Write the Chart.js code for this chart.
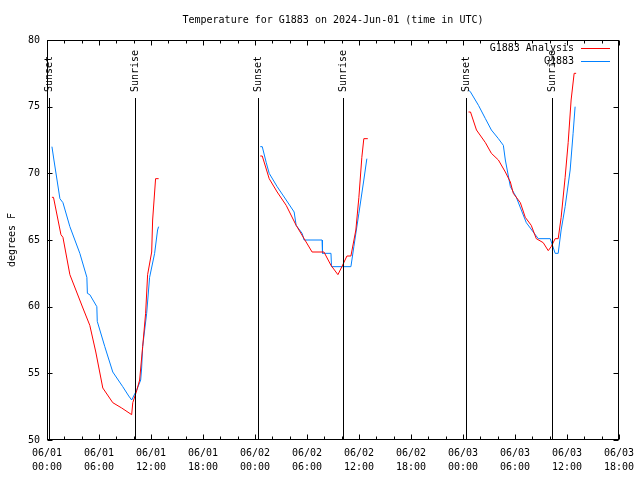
<!DOCTYPE html>
<html>
<head>
<meta charset="utf-8">
<script src="https://cdn.jsdelivr.net/npm/chart.js@4/dist/chart.umd.min.js"></script>
<style>
html,body{margin:0;padding:0;background:#fff;}
canvas{display:block;}
</style>
</head>
<body>
<canvas id="c" width="640" height="480"></canvas>
<script>
// Hours since 2024-06-01 00:00 UTC; null separates night segments
const analysisHours = [0.57,0.75,1.61,1.84,2.64,4.14,4.94,5.63,6.44,7.59,8.62,9.77,9.9,10.35,10.69,11.04,11.38,11.61,12.08,12.19,12.53,12.88,
  null,
  24.61,24.84,25.64,26.56,27.6,28.75,29.67,30.59,31.96,32.77,33.57,34.03,34.61,35.07,35.64,35.99,36.33,36.56,37.02,
  null,
  48.64,48.87,49.56,50.59,51.28,52.09,52.89,53.47,53.81,54.62,55.19,55.88,56.46,57.26,57.84,58.18,58.64,58.99,59.33,59.79,60.14,60.48,60.83,61.06];
const analysisTemps = [68.2,68.2,65.4,65.2,62.4,59.9,58.6,56.6,53.9,52.8,52.4,51.9,52.8,53.7,54.5,57,59.5,62.4,64.1,66.5,69.6,69.6,
  null,
  71.3,71.3,69.6,68.6,67.6,66.1,65.1,64.1,64.1,63.1,62.4,63,63.8,63.8,65.75,68.2,71.2,72.6,72.6,
  null,
  74.6,74.6,73.25,72.3,71.5,71,70.1,69.35,68.5,67.8,66.7,66.1,65.1,64.8,64.2,64.5,65.1,65.1,66.7,69.7,72.3,75.5,77.5,77.5];

const stationHours = [0.57,0.8,1.49,1.84,2.64,3.79,4.6,4.66,4.94,5.75,5.8,6.67,7.59,8.74,9.43,9.77,10.35,10.81,10.92,11.04,11.5,11.84,12.42,12.76,12.88,
  null,
  24.61,24.84,25.3,25.64,26.56,27.6,28.52,28.75,29.44,29.67,31.74,31.79,32.77,32.83,35.07,35.41,35.99,36.56,36.91,
  null,
  48.64,48.87,49.79,50.59,51.28,52.09,52.66,52.89,53.47,54.16,54.73,55.31,56.11,56.69,58.07,58.64,58.99,59.33,59.79,60.37,60.71,60.94];
const stationTemps = [72,71,68.1,67.8,66,64,62.2,61,60.9,60,58.9,57,55.1,54,53.3,53,53.75,54.5,55.4,57,59.5,62.2,64,65.75,66,
  null,
  72,72,70.8,70,69,68,67.1,66.1,65.5,65,65,64,64,63,63,64.5,67,69.5,71.1,
  null,
  76.25,76.1,75.1,74.1,73.25,72.6,72.1,71,69,68.2,67.25,66.3,65.6,65.1,65.1,64,64,65.75,67.5,70.25,73,75];

const eventHours = [0.26, 10.12, 24.3, 34.19, 48.33, 58.22];
const eventLabels = ["Sunset","Sunrise","Sunset","Sunrise","Sunset","Sunrise"];

const seriesNames = ["G1883 Analysis", "G1883"];
const seriesColors = ["#ff0000", "#0080ff"];
const dayLabels = ["06/01","06/02","06/03"];
const titleText = "Temperature for G1883 on 2024-Jun-01 (time in UTC)";
const yTitle = "degrees F";

const FONT = '10px "DejaVu Sans Mono", "Liberation Mono", monospace';

function toPoints(hs, vs){
  return hs.map((h,i)=> h===null ? {x: NaN, y: null} : {x: h, y: vs[i]});
}
function pts(hs, vs){
  const out=[];
  for(let i=0;i<hs.length;i++){
    if(hs[i]===null){ out.push({x:(hs[i-1]+hs[i+1])/2, y:null}); }
    else out.push({x:hs[i], y:vs[i]});
  }
  return out;
}

const framePlugin = {
  id: 'frame',
  afterDatasetsDraw(chart){
    const ctx = chart.ctx;
    const a = chart.chartArea;
    const xs = chart.scales.x, ys = chart.scales.y;
    ctx.save();
    ctx.strokeStyle = '#000';
    ctx.lineWidth = 1;
    // event lines + labels
    ctx.font = FONT;
    ctx.fillStyle = '#000';
    eventHours.forEach((h,i)=>{
      const x = Math.round(xs.getPixelForValue(h)) + 0.5;
      ctx.beginPath();
      ctx.moveTo(x, 98);
      ctx.lineTo(x, a.bottom);
      ctx.stroke();
      ctx.save();
      ctx.translate(x, 92);
      ctx.rotate(-Math.PI/2);
      ctx.textAlign = 'left';
      ctx.textBaseline = 'middle';
      ctx.fillText(eventLabels[i], 0, 0);
      ctx.restore();
    });
    // frame
    const L = Math.round(a.left)+0.5, R = Math.round(a.right)-0.5, T = Math.round(a.top)+0.5, B = Math.round(a.bottom)-0.5;
    ctx.strokeRect(L, T, R-L, B-T);
    // x ticks (major 6h, minor 2h)
    ctx.beginPath();
    for(let h=0; h<=66; h+=2){
      const x = Math.round(xs.getPixelForValue(h))+0.5;
      const len = (h%6===0) ? 5 : 3;
      ctx.moveTo(x, B); ctx.lineTo(x, B-len);
      ctx.moveTo(x, T); ctx.lineTo(x, T+len);
    }
    for(let v=50; v<=80; v+=5){
      const y = Math.round(ys.getPixelForValue(v))+0.5;
      ctx.moveTo(L, y); ctx.lineTo(L+5, y);
      ctx.moveTo(R, y); ctx.lineTo(R-5, y);
    }
    ctx.stroke();
    // title
    ctx.textAlign = 'center';
    ctx.textBaseline = 'middle';
    ctx.fillText(titleText, (a.left+a.right)/2, 20);
    // y title
    ctx.save();
    ctx.translate(12, (a.top+a.bottom)/2);
    ctx.rotate(-Math.PI/2);
    ctx.fillText(yTitle, 0, 0);
    ctx.restore();
    // legend
    const ly = [48, 61];
    seriesNames.forEach((n,i)=>{
      ctx.fillStyle = '#000';
      ctx.textAlign = 'right';
      ctx.fillText(n, 574, ly[i]);
      ctx.strokeStyle = seriesColors[i];
      ctx.beginPath();
      ctx.moveTo(581, ly[i]+0.5); ctx.lineTo(610, ly[i]+0.5);
      ctx.stroke();
    });
    ctx.restore();
  }
};

new Chart(document.getElementById('c'), {
  type: 'line',
  data: {
    datasets: [
      { label: seriesNames[0], data: pts(analysisHours, analysisTemps), borderColor: seriesColors[0], borderWidth: 1, pointRadius: 0, tension: 0, spanGaps: false, fill: false },
      { label: seriesNames[1], data: pts(stationHours, stationTemps), borderColor: seriesColors[1], borderWidth: 1, pointRadius: 0, tension: 0, spanGaps: false, fill: false }
    ]
  },
  options: {
    responsive: false,
    animation: false,
    devicePixelRatio: 1,
    layout: { padding: { top: 40, right: 19, left: 0, bottom: 0 } },
    plugins: { legend: { display: false }, title: { display: false }, tooltip: { enabled: false } },
    scales: {
      x: {
        type: 'linear', min: 0, max: 66,
        grid: { display: false, drawTicks: false },
        border: { display: false },
        afterFit(s){ s.height = 40; },
        ticks: {
          stepSize: 6, autoSkip: false, maxRotation: 0, padding: 6,
          color: '#000',
          font: { family: '"DejaVu Sans Mono", "Liberation Mono", monospace', size: 10, lineHeight: 1.4 },
          callback(v){
            const d = Math.floor(v/24);
            const hr = v % 24;
            return [dayLabels[d] || "06/0"+(d+1), String(hr).padStart(2,'0')+":00"];
          }
        }
      },
      y: {
        type: 'linear', min: 50, max: 80,
        grid: { display: false, drawTicks: false },
        border: { display: false },
        afterFit(s){ s.width = 47; },
        ticks: {
          stepSize: 5, padding: 7, color: '#000',
          font: { family: '"DejaVu Sans Mono", "Liberation Mono", monospace', size: 10 }
        }
      }
    }
  },
  plugins: [framePlugin]
});
</script>
</body>
</html>
